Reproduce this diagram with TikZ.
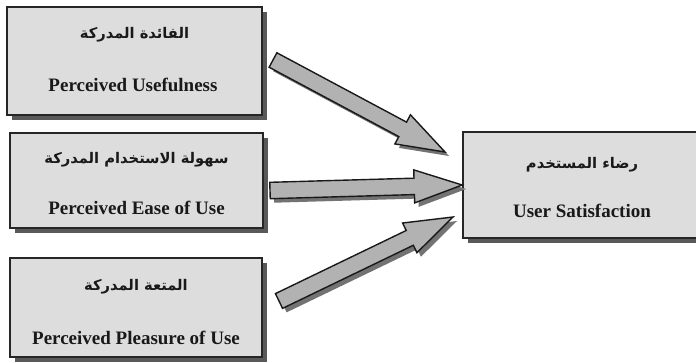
\documentclass[tikz,border=0pt]{standalone}
\usepackage{fontspec}
\setmainfont{Liberation Serif}
\newfontfamily\arabicfont[Script=Arabic, BoldFont=DejaVu Sans Bold]{DejaVu Sans}
\TeXXeTstate=1
\usetikzlibrary{calc,shadows}

\tikzset{
  box/.style={draw=black!85, line width=1.6pt, fill=gray!27, inner sep=0pt,
    drop shadow={shadow xshift=5pt, shadow yshift=-5pt, fill=black!65, opacity=1}},
  fatarrowstyle/.style={draw=black!90, line width=1.4pt, fill=gray!60, line join=miter,
    drop shadow={shadow xshift=4pt, shadow yshift=-4pt, fill=black!55, opacity=1}},
  artxt/.style={font=\arabicfont\bfseries\fontsize{14.7}{18}\selectfont, text=black!90, inner sep=0pt},
  entxt/.style={font=\bfseries\fontsize{19}{22}\selectfont, text=black!90, inner sep=0pt},
}

\newcommand\fatarrow[3]{%
  \coordinate (#3base) at ($(#2)!48pt!(#1)$);
  \draw[fatarrowstyle] ($(#1)!8.2pt!90:(#2)$) -- ($(#3base)!8.2pt!-90:(#1)$)
    -- ($(#3base)!16.5pt!-90:(#1)$) -- (#2) -- ($(#3base)!16.5pt!90:(#1)$)
    -- ($(#3base)!8.2pt!90:(#1)$) -- ($(#1)!8.2pt!-90:(#2)$) -- cycle;}

\begin{document}
\begin{tikzpicture}[x=1pt, y=-1pt]
\clip (0,0) rectangle (696,362);

\node[box, minimum width=255pt, minimum height=108pt] (b1) at (134.5,61) {};
\node[box, minimum width=253pt, minimum height=95pt] (b2) at (136.5,180.5) {};
\node[box, minimum width=252pt, minimum height=99pt] (b3) at (136,307.5) {};
\node[box, minimum width=238pt, minimum height=106pt] (b4) at (582,185) {};

\node[artxt] (b1ar) at (134.5,35) {\beginR الفائدة المدركة\endR};
\node[entxt] (b1en) at (133,85) {Perceived Usefulness};
\node[artxt] (b2ar) at (136.5,160) {\beginR سهولة الاستخدام المدركة\endR};
\node[entxt] (b2en) at (136.5,208) {Perceived Ease of Use};
\node[artxt] (b3ar) at (136,287) {\beginR المتعة المدركة\endR};
\node[entxt] (b3en) at (136,338) {Perceived Pleasure of Use};
\node[artxt] (b4ar) at (582,165) {\beginR رضاء المستخدم\endR};
\node[entxt] (b4en) at (582,211) {User Satisfaction};

\coordinate (t1) at (273,60);
\coordinate (h1) at (445,152);
\coordinate (t2) at (270,190.5);
\coordinate (h2) at (b4.west);
\coordinate (t3) at (279,301);
\coordinate (h3) at (453,217);

\fatarrow{t1}{h1}{a1}
\fatarrow{t2}{h2}{a2}
\fatarrow{t3}{h3}{a3}
\end{tikzpicture}
\end{document}
